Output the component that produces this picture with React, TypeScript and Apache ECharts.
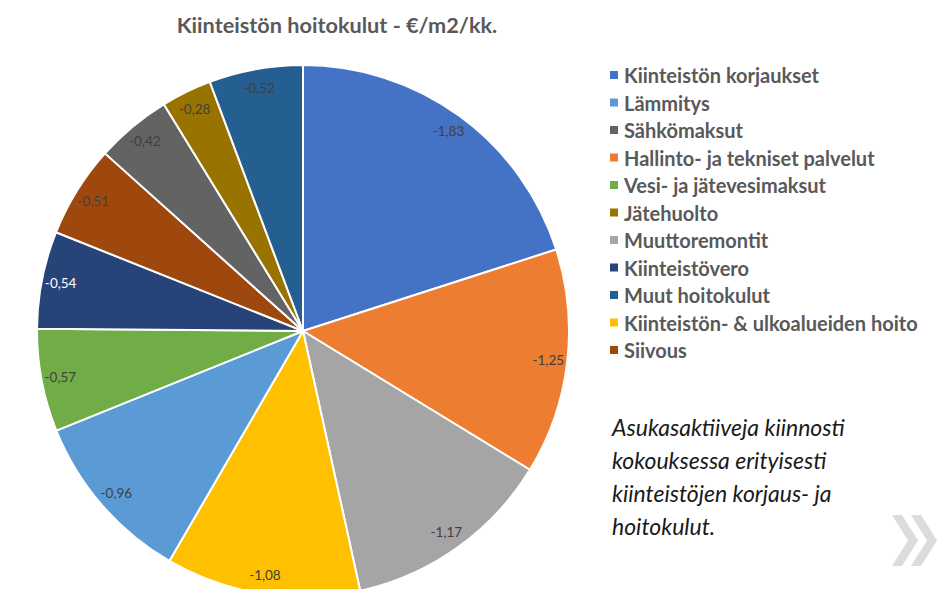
import React, { useEffect, useRef } from "react";
import * as echarts from "echarts";

const titleText = "Kiinteistön hoitokulut - €/m2/kk.";

// Slices in clockwise order from 12 o'clock
const categories = [
  "Kiinteistön korjaukset",
  "Hallinto- ja tekniset palvelut",
  "Muuttoremontit",
  "Kiinteistön- & ulkoalueiden hoito",
  "Lämmitys",
  "Vesi- ja jätevesimaksut",
  "Kiinteistövero",
  "Siivous",
  "Sähkömaksut",
  "Jätehuolto",
  "Muut hoitokulut",
];
const values = [-1.83, -1.25, -1.17, -1.08, -0.96, -0.57, -0.54, -0.51, -0.42, -0.28, -0.52];
const colors = [
  "#4472C4",
  "#ED7D31",
  "#A5A5A5",
  "#FFC000",
  "#5B9BD5",
  "#70AD47",
  "#264478",
  "#9E480E",
  "#636363",
  "#997300",
  "#255E91",
];
const legendOrder = [
  "Kiinteistön korjaukset",
  "Lämmitys",
  "Sähkömaksut",
  "Hallinto- ja tekniset palvelut",
  "Vesi- ja jätevesimaksut",
  "Jätehuolto",
  "Muuttoremontit",
  "Kiinteistövero",
  "Muut hoitokulut",
  "Kiinteistön- & ulkoalueiden hoito",
  "Siivous",
];
const noteLines = [
  "Asukasaktiiveja kiinnosti",
  "kokouksessa erityisesti",
  "kiinteistöjen korjaus- ja",
  "hoitokulut.",
];

const fmt = (v: number) => v.toFixed(2).replace(".", ",");

export default function App() {
  const ref = useRef<HTMLDivElement>(null);
  useEffect(() => {
    if (!ref.current) return;
    const chart = echarts.init(ref.current, undefined, { renderer: "svg" });
    const baseData = categories.map((c, i) => ({
      name: c,
      value: Math.abs(values[i]),
      itemStyle: { color: colors[i] },
    }));
    const labelData = categories.map((c, i) => ({
      name: c,
      value: Math.abs(values[i]),
      label: {
        formatter: fmt(values[i]),
        color: c === "Kiinteistövero" ? "#ffffff" : "#404040",
      },
    }));
    const chevron = (x0: number) => ({
      type: "polygon",
      shape: {
        points: [
          [x0, 515],
          [x0 + 10, 515],
          [x0 + 26, 540.5],
          [x0 + 10, 566],
          [x0, 566],
          [x0 + 16, 540.5],
        ],
      },
      style: { fill: "#dcdcdc" },
    });
    chart.setOption({
      animation: false,
      color: colors,
      legend: {
        data: legendOrder,
        orient: "vertical",
        left: 603,
        top: 60,
        padding: 5,
        icon: "rect",
        itemWidth: 10,
        itemHeight: 10,
        itemGap: 7.5,
        selectedMode: false,
        textStyle: {
          fontFamily: "Lato",
          fontWeight: "bold",
          fontSize: 20,
          color: "#595959",
          lineHeight: 20,
        },
      },
      graphic: [
        {
          type: "text",
          x: 337,
          y: 25,
          style: {
            text: titleText,
            fontFamily: "Lato",
            fontWeight: "bold",
            fontSize: 21.7,
            fill: "#595959",
            textAlign: "center",
            textVerticalAlign: "middle",
          },
        },
        ...noteLines.map((t, i) => ({
          type: "text",
          x: 612,
          y: 427 + i * 33,
          style: {
            text: t,
            fontFamily: "Lato",
            fontStyle: "italic",
            fontSize: 23,
            fill: "#1a1a1a",
            textAlign: "left",
            textVerticalAlign: "middle",
          },
        })),
        chevron(892),
        chevron(911),
      ],
      series: [
        {
          type: "pie",
          center: [303, 331],
          radius: [0, 266],
          startAngle: 90,
          clockwise: true,
          silent: true,
          label: { show: false },
          labelLine: { show: false },
          itemStyle: { borderColor: "#ffffff", borderWidth: 2 },
          data: baseData,
        },
        {
          type: "pie",
          center: [303, 331],
          radius: [222, 266],
          startAngle: 90,
          clockwise: true,
          silent: true,
          legendHoverLink: false,
          itemStyle: { color: "rgba(0,0,0,0)", borderWidth: 0 },
          label: {
            show: true,
            position: "inside",
            fontFamily: "Lato",
            fontSize: 13.5,
          },
          labelLine: { show: false },
          data: labelData,
        },
      ],
    });
    return () => chart.dispose();
  }, []);
  return (
    <div
      ref={ref}
      style={{ position: "fixed", left: 0, top: 0, width: 951, height: 589, background: "#ffffff" }}
    />
  );
}
